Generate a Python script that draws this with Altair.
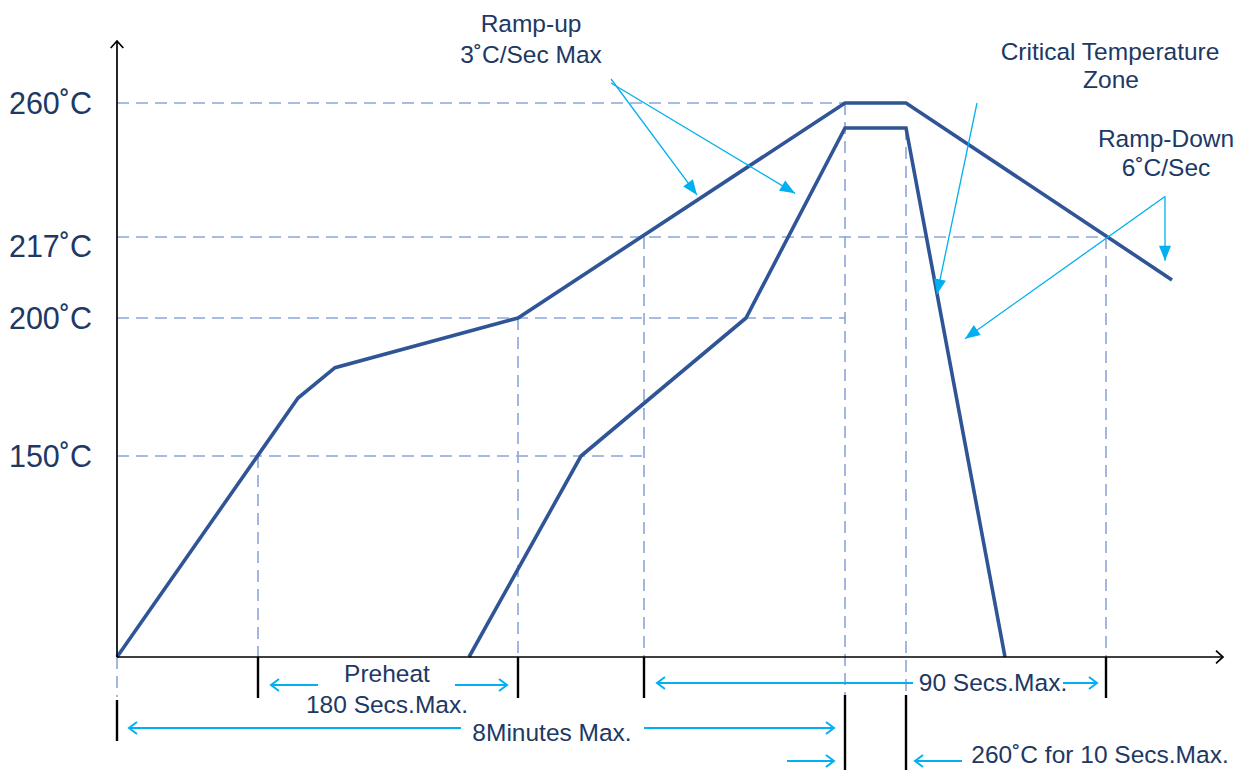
import math
import altair as alt
import numpy as np
import pandas as pd

# ---------------- data (t = schematic time units from profile start, T = °C) ----------------
upper_t = [0, 181, 218, 401, 728, 789, 1055]
upper_T = [0, 171, 182, 200, 260, 260, 208]
lower_t = [352, 464, 629, 728, 789, 888]
lower_T = [0, 150, 200, 252, 252, 0]

tick_temps = [260, 217, 200, 150]
tick_labels = ["260˚C", "217˚C", "200˚C", "150˚C"]
hline_end_t = [728, 989, 728, 527]

vmark_t = [0, 141, 401, 527, 728, 789, 989]
vmark_top = [0, 150, 200, 217, 260, 252, 217]
vmark_bot = [-40, 0, 0, 0, -38, -38, 0]

tick_t = [141, 401, 527, 989, 0, 728, 789]
tick_top = [0, 0, 0, 0, -43, -38, -38]
tick_bot = [-41, -41, -41, -41, -84, -113, -113]

axis_x_end = 1106
axis_y_top = 322

diag_t1 = [494, 494, 860, 1048, 1048]
diag_T1 = [284, 280, 260, 230, 230]
diag_t2 = [580, 678, 820, 1048, 848]
diag_T2 = [230.5, 231, 205, 212, 192.5]

dim_from = [201, 338, 796, 946, 344, 527, 670, 845]
dim_to = [154, 390, 540, 980, 12, 717, 717, 798]
dim_T = [-28, -28, -26, -26, -71, -71, -104, -104]

ann_text = ["Ramp-up", "3˚C/Sec Max", "Critical Temperature", "Zone", "Ramp-Down",
            "6˚C/Sec", "Preheat", "180 Secs.Max.", "8Minutes Max.", "90 Secs.Max.",
            "260˚C for 10 Secs.Max."]
ann_t = [414, 414, 993, 994, 1049, 1049, 270, 270, 435, 876, 983]
ann_T = [331, 300, 303, 275, 246, 236.5, -25, -56, -84, -34, -106]

# ---------------- scales ----------------
W, H = 1226, 762
X_DOMAIN = [-109, 1117]
Y_DOMAIN = [-113, 0, 150, 200, 217, 260, 355]
Y_RANGE = [762, 649, 448, 310, 229, 95, 0]

xs = alt.Scale(domain=X_DOMAIN, nice=False, zero=False)
ys = alt.Scale(domain=Y_DOMAIN, range=Y_RANGE, nice=False, zero=False)


def px(t):
    return (t - X_DOMAIN[0]) * W / (X_DOMAIN[1] - X_DOMAIN[0])


def py(T):
    return float(np.interp(T, Y_DOMAIN, Y_RANGE))


def ang(t1, T1, t2, T2):
    return math.degrees(math.atan2(py(T2) - py(T1), px(t2) - px(t1))) % 360


NAVY = "#203864"
CURVE = "#2F5597"
DASH = "#8AA6DA"
CYAN = "#00B0F0"
FONT = "Liberation Sans"


def seg_layer(df, color, width, dash=None):
    kw = dict(color=color, strokeWidth=width)
    if dash:
        kw["strokeDash"] = dash
    return alt.Chart(df).mark_rule(**kw).encode(
        x=alt.X("t1:Q", scale=xs, axis=None),
        x2="t2:Q",
        y=alt.Y("T1:Q", scale=ys, axis=None),
        y2="T2:Q",
    )


# dashed guide lines
hl = pd.DataFrame({"t1": [0] * 4, "t2": hline_end_t, "T1": tick_temps, "T2": tick_temps})
vl = pd.DataFrame({"t1": vmark_t, "t2": vmark_t, "T1": vmark_top, "T2": vmark_bot})
dashed = seg_layer(pd.concat([hl, vl]), DASH, 1.6, [12, 7])

# profile curves
curves = pd.DataFrame({
    "t": upper_t + lower_t,
    "T": upper_T + lower_T,
    "s": ["upper"] * len(upper_t) + ["lower"] * len(lower_t),
    "o": list(range(len(upper_t))) + list(range(len(lower_t))),
})
curve_layer = alt.Chart(curves).mark_line(color=CURVE, strokeWidth=3.6).encode(
    x=alt.X("t:Q", scale=xs, axis=None),
    y=alt.Y("T:Q", scale=ys, axis=None),
    detail="s:N",
    order="o:Q",
)

# axes
axes = pd.DataFrame({"t1": [0, 0], "t2": [axis_x_end, 0], "T1": [0, 0], "T2": [0, axis_y_top]})
axis_layer = seg_layer(axes, "black", 1.7)
axis_heads = pd.DataFrame({"t": [axis_x_end, 0], "T": [0, axis_y_top], "a": [0, 270]})
axis_head_layer = alt.Chart(axis_heads).mark_point(
    shape="M-1,-0.9L0,0L-1,0.9", filled=False, color="black", strokeWidth=1.7,
    size=196, opacity=1,
).encode(
    x=alt.X("t:Q", scale=xs, axis=None),
    y=alt.Y("T:Q", scale=ys, axis=None),
    angle=alt.Angle("a:Q", scale=None),
)

# black ticks below axis
ticks = pd.DataFrame({"t1": tick_t, "t2": tick_t, "T1": tick_top, "T2": tick_bot})
tick_layer = seg_layer(ticks, "black", 2.4)

# cyan annotation arrows (filled heads)
diag = pd.DataFrame({"t1": diag_t1, "T1": diag_T1, "t2": diag_t2, "T2": diag_T2})
diag["a"] = [ang(a, b, c, d) for a, b, c, d in zip(diag_t1, diag_T1, diag_t2, diag_T2)]
diag_layer = seg_layer(diag, CYAN, 1.3)
diag_head = alt.Chart(diag).mark_point(
    shape="M0,0L-1,-0.4L-1,0.4Z", filled=True, color=CYAN, size=900, opacity=1,
).encode(
    x=alt.X("t2:Q", scale=xs, axis=None),
    y=alt.Y("T2:Q", scale=ys, axis=None),
    angle=alt.Angle("a:Q", scale=None),
)

# cyan dimension arrows (open heads)
dim = pd.DataFrame({"t1": dim_from, "t2": dim_to, "T1": dim_T, "T2": dim_T})
dim["a"] = [ang(a, c, b, c) for a, b, c in zip(dim_from, dim_to, dim_T)]
dim_layer = seg_layer(dim, CYAN, 2)
dim_head = alt.Chart(dim).mark_point(
    shape="M-1,-0.75L0,0L-1,0.75", filled=False, color=CYAN, strokeWidth=2,
    size=256, opacity=1,
).encode(
    x=alt.X("t2:Q", scale=xs, axis=None),
    y=alt.Y("T2:Q", scale=ys, axis=None),
    angle=alt.Angle("a:Q", scale=None),
)

# temperature labels
lab = pd.DataFrame({"t": [-25] * 4, "T": tick_temps, "label": tick_labels})
lab_a = alt.Chart(lab[lab["T"] != 217]).mark_text(
    align="right", baseline="alphabetic", dy=11, font=FONT, fontSize=30.5, color=NAVY,
).encode(x=alt.X("t:Q", scale=xs, axis=None), y=alt.Y("T:Q", scale=ys, axis=None), text="label:N")
lab_b = alt.Chart(lab[lab["T"] == 217]).mark_text(
    align="right", baseline="alphabetic", dy=20, font=FONT, fontSize=30.5, color=NAVY,
).encode(x=alt.X("t:Q", scale=xs, axis=None), y=alt.Y("T:Q", scale=ys, axis=None), text="label:N")

# annotation texts
ann = pd.DataFrame({"t": ann_t, "T": ann_T, "txt": ann_text})
ann_layer = alt.Chart(ann).mark_text(
    align="center", baseline="alphabetic", font=FONT, fontSize=24.5, color=NAVY,
).encode(x=alt.X("t:Q", scale=xs, axis=None), y=alt.Y("T:Q", scale=ys, axis=None), text="txt:N")

chart = alt.layer(
    dashed, curve_layer, tick_layer, axis_layer, axis_head_layer,
    diag_layer, diag_head, dim_layer, dim_head, lab_a, lab_b, ann_layer,
).properties(
    width=W, height=H, padding=0, autosize=alt.AutoSizeParams(type="none"),
).configure_view(stroke=None)

chart.save("out.html", embed_options={"renderer": "svg", "actions": False})
